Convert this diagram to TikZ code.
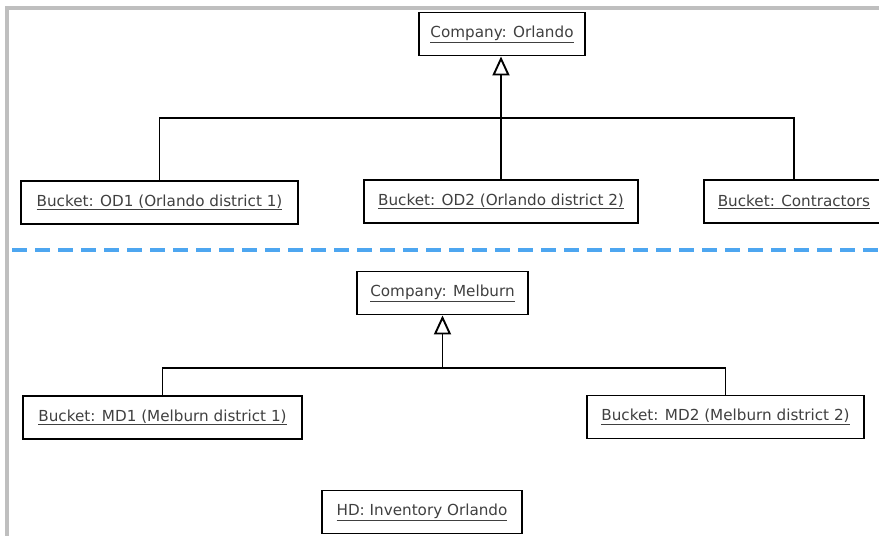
\documentclass[tikz,border=0pt]{standalone}
\usepackage{fontspec}
\setmainfont{DejaVu Sans}
\usetikzlibrary{arrows.meta}

\newcommand{\objname}[1]{\underline{#1}}

\begin{document}
\begin{tikzpicture}[x=1pt, y=-1pt,
    obj/.style={draw, line width=1.9pt, fill=white, minimum height=43pt,
        inner xsep=0pt, text=black!75, font=\fontsize{15.2}{18}\selectfont},
    link/.style={line width=1.9pt},
    gen/.style={line width=1.9pt, -{Triangle[open, width=17pt, length=19pt, line width=1.9pt]}},
    split/.style={dashed, dash pattern=on 15pt off 8pt, line width=3.5pt, color={rgb,255:red,77;green,166;blue,240}}]

% Page frame
\useasboundingbox (0,0) rectangle (879,536);
\fill[black!25] (5,6) rectangle (879,9.5);
\fill[black!25] (5,6) rectangle (8.5,536);

% Bus heights
\def\orlBus{118}
\def\melBus{368}

% Orlando objects
\node[obj, minimum width=166pt] (orl) at (502,34) {\objname{Company: Orlando}};
\node[obj, minimum width=277pt] (od1) at (159.5,202.5) {\objname{Bucket: OD1 (Orlando district 1)}};
\node[obj, minimum width=274pt] (od2) at (501,201.5) {\objname{Bucket: OD2 (Orlando district 2)}};
\node[obj, minimum width=180pt, anchor=west] (contr) at (703,201.5) {\objname{Bucket: Contractors}};

\coordinate (orlbus) at (od2.north |- 0,\orlBus);
\draw[link] (od1.north) |- (orlbus) -| (contr.north);
\draw[link] (od2.north) -- (orlbus);
\draw[gen] (orlbus) -- (od2.north |- orl.south);

% Divider
\draw[split] (12,250) -- (879,250);

% Melburn objects
\node[obj, minimum width=171pt] (mel) at (442.5,293) {\objname{Company: Melburn}};
\node[obj, minimum width=279pt] (md1) at (162.5,417.5) {\objname{Bucket: MD1 (Melburn district 1)}};
\node[obj, minimum width=277pt] (md2) at (725.5,417) {\objname{Bucket: MD2 (Melburn district 2)}};

\coordinate (melbus) at (mel.south |- 0,\melBus);
\draw[link] (md1.north) |- (melbus) -| (md2.north);
\draw[gen] (melbus) -- (mel.south);

% Inventory
\node[obj, minimum width=200pt] (hd) at (422,512) {\objname{HD: Inventory Orlando}};

\end{tikzpicture}
\end{document}
